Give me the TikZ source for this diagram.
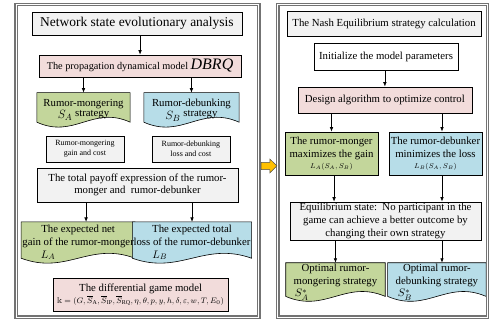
\documentclass[tikz,border=0pt]{standalone}
\usepackage{amsmath,amssymb}
\usepackage{fontspec}
\setmainfont{Liberation Serif}
\usepackage{tikz}
\usetikzlibrary{arrows.meta,positioning,calc,backgrounds}
\definecolor{boxgray}{HTML}{F2F2F2}
\definecolor{boxpink}{HTML}{F2DCDB}
\definecolor{boxgreen}{HTML}{C3D69B}
\definecolor{boxblue}{HTML}{B7DDE8}
\definecolor{arrgold}{HTML}{FFC000}

% document shape: flat top, wavy bottom, drawn behind node #1
\newcommand{\docwave}[2]{%
  \filldraw[fill=#2, draw=black, line width=0.6pt]
    ($(#1.south west)+(0,5pt)$) -- (#1.north west) -- (#1.north east) -- ($(#1.south east)+(0,5pt)$)
    .. controls ($(#1.south east)!0.4!(#1.south west)+(0,22pt)$)
    and ($(#1.south west)!0.4!(#1.south east)+(0,-12pt)$) .. ($(#1.south west)+(0,5pt)$) -- cycle;}

\begin{document}
\begin{tikzpicture}[
            every node/.style={font=\fontsize{10.8}{12.8}\selectfont},
            box/.style={draw, line width=0.6pt, align=center, inner sep=1pt},
            doc/.style={align=center, inner sep=1pt},
            sig/.style={-{Latex[length=4.5pt,width=3.6pt]}, line width=0.7pt},
            panel/.style={draw=black!55, line width=1.1pt, double=white, double distance=1.0pt,
                    minimum height=11cm, inner sep=0pt},
            small/.style={font=\fontsize{8}{10}\selectfont},
            big/.style={font=\fontsize{13.5}{15}\selectfont}
        ]
        \useasboundingbox (0,0) rectangle (17.25,-11.40);

        % ================= panels =================
        \node[panel, minimum width=8.55cm] (leftp)  at ( 4.84,-5.66) {};
        \node[panel, minimum width=7.39cm] (rightp) at (13.48,-5.66) {};
        \filldraw[fill=arrgold, draw=black!70, line width=0.5pt]
        (9.19,-5.72) -- (9.50,-5.72) -- (9.50,-5.60) -- (9.75,-5.84)
        -- (9.50,-6.09) -- (9.50,-5.97) -- (9.19,-5.97) -- cycle;

        % ================= left: evolutionary analysis =================
        \node[box, big, fill=boxgray, minimum width=7.39cm, minimum height=0.81cm] (net) at (4.82,-0.83)
        {Network state evolutionary analysis};
        \node[box, fill=boxpink, minimum width=7.11cm, minimum height=0.77cm,
            font=\fontsize{10.3}{12}\selectfont] (dbrq) at (4.93,-2.32)
        {The propagation dynamical model {\fontsize{16}{16}\selectfont\textit{DBRQ}}};
        \node[doc, minimum width=3.27cm, minimum height=1.2cm] (mong) at (2.94,-3.87)
        {Rumor-mongering\\ {\fontsize{13}{13}\selectfont$S_{A}$}\ \raisebox{2pt}{strategy}\hspace{20pt}};
        \node[doc, minimum width=3.34cm, minimum height=1.2cm] (debu) at (6.74,-3.87)
        {Rumor-debunking\\ {\fontsize{13}{13}\selectfont$S_{B}$}\ \raisebox{3pt}{strategy}\hspace{22pt}};
        \node[box, small, fill=boxgray, minimum width=2.75cm, minimum height=0.92cm] (gain) at (2.99,-5.25)
        {Rumor-mongering\\gain and cost};
        \node[box, small, fill=boxgray, minimum width=2.75cm, minimum height=0.92cm] (loss) at (6.72,-5.25)
        {Rumor-debunking\\loss and cost};
        \node[box, fill=boxgray, minimum width=7.08cm, minimum height=1.2cm] (payoff) at (4.84,-6.51)
        {The total payoff expression of the rumor-\\monger and \ rumor-debunker};
        \node[doc, minimum width=3.87cm, minimum height=1.44cm] (netgain) at (2.75,-8.54)
        {The expected net\\gain of the rumor-monger\\\makebox[0pt][r]{$L_{A}$\hspace{23pt}}};
        \node[doc, minimum width=3.80cm, minimum height=1.44cm] (totloss) at (6.76,-8.54)
        {The expected total\\loss of the rumor-debunker\\\makebox[0pt][r]{$L_{B}$\hspace{25pt}}};
        \node[box, fill=boxpink, minimum width=6.16cm, minimum height=1.16cm] (game) at (4.95,-10.37)
        {The differential game model\\[-1pt]{\fontsize{8.5}{10}\selectfont
        $\Bbbk=(G,\overline{S}_{\mathrm{A}},\overline{S}_{\mathrm{IP}},\overline{S}_{\mathrm{RQ}},\eta,\theta,p,y,h,\delta,\varepsilon,w,T,E_0)$}};

        \draw[sig] (net.south -| dbrq.north) -- (dbrq.north);
        \draw[sig] (dbrq.south -| mong.north) -- (mong.north);
        \draw[sig] (dbrq.south -| debu.north) -- (debu.north);
        \draw[sig] ([xshift=0.28cm]netgain.north |- payoff.south) -- ([xshift=0.28cm]netgain.north);
        \draw[sig] (payoff.south -| totloss.north) -- (totloss.north);

        % ================= right: Nash equilibrium =================
        \node[box, fill=boxgray, minimum width=6.83cm, minimum height=0.88cm] (nash) at (13.52,-0.83)
        {The Nash Equilibrium strategy calculation};
        \node[box, fill=white, minimum width=5.07cm, minimum height=0.95cm] (init) at (13.59,-1.99)
        {Initialize the model parameters};
        \node[box, fill=boxpink, minimum width=6.13cm, minimum height=0.92cm] (algo) at (13.55,-3.52)
        {Design algorithm to optimize control};
        \node[box, fill=boxgreen, minimum width=3.27cm, minimum height=1.51cm] (maxg) at (11.67,-5.40)
        {The rumor-monger\\maximizes the gain\\[-2pt]{\fontsize{7}{8}\selectfont$L_{A}(S_{A},S_{B})$}};
        \node[box, fill=boxblue, minimum width=3.27cm, minimum height=1.51cm] (minl) at (15.33,-5.40)
        {The rumor-debunker\\minimizes the loss\\[-2pt]{\fontsize{7}{8}\selectfont$L_{B}(S_{A},S_{B})$}};
        \node[box, fill=boxgray, minimum width=6.72cm, minimum height=1.34cm] (equi) at (13.57,-7.78)
        {Equilibrium state:\ \ No participant in the\\game can achieve a better outcome by\\changing their own strategy};
        \node[doc, minimum width=3.49cm, minimum height=1.34cm] (optm) at (11.81,-9.93)
        {Optimal rumor-\\mongering strategy\\\makebox[0pt][r]{$S_{A}^{*}$\hspace{27pt}}};
        \node[doc, minimum width=3.45cm, minimum height=1.34cm] (optd) at (15.38,-9.93)
        {Optimal rumor-\\debunking strategy\\\makebox[0pt][r]{$S_{B}^{*}$\hspace{25pt}}};

        \draw[sig] (init.south -| algo.north) -- (algo.north);
        \draw[sig] (algo.south -| maxg.north) -- (maxg.north);
        \draw[sig] ([xshift=0.23cm]minl.north |- algo.south) -- ([xshift=0.23cm]minl.north);
        \draw[sig] ([xshift=0.09cm]maxg.south) -- ([xshift=0.09cm]maxg.south |- equi.north);
        \draw[sig] ([xshift=0.23cm]minl.south) -- ([xshift=0.23cm]minl.south |- equi.north);
        \draw[sig] (equi.south -| optm.north) -- (optm.north);
        \draw[sig] ([xshift=0.18cm]optd.north |- equi.south) -- ([xshift=0.18cm]optd.north);

        % ================= document shapes behind their text =================
        \begin{scope}[on background layer]
            \fill[white] (0,0) rectangle (17.25,-11.40);
            \docwave{mong}{boxgreen}
            \docwave{debu}{boxblue}
            \docwave{netgain}{boxgreen}
            \docwave{totloss}{boxblue}
            \docwave{optm}{boxgreen}
            \docwave{optd}{boxblue}
        \end{scope}

    \end{tikzpicture}
\end{document}
